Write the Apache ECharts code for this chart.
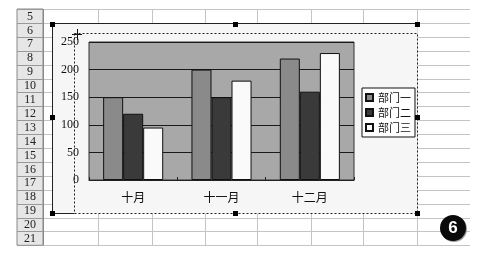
<!DOCTYPE html>
<html>
<head>
<meta charset="utf-8">
<script src="https://cdn.jsdelivr.net/npm/echarts@6/dist/echarts.min.js"></script>
<style>html,body{margin:0;padding:0;background:#fff;}#c{width:478px;height:254px;}</style>
</head>
<body>
<div id="c"></div>
<script>
const categories = ['十月', '十一月', '十二月'];
const seriesNames = ['部门一', '部门二', '部门三'];
const dept1 = [150, 200, 220];
const dept2 = [120, 150, 160];
const dept3 = [95, 180, 230];
const rowLabels = ['5','6','7','8','9','10','11','12','13','14','15','16','17','18','19','20','21'];
const badgeLabel = '6';

const FONT = "'Liberation Serif','Noto Sans CJK SC',serif";
const chart = echarts.init(document.getElementById('c'), null, {renderer: 'canvas'});

// spreadsheet background
const g = [];
const sheetTop = 9, rowH = 13.9, sheetLeft = 17, headerRight = 43, sheetRight = 470;
const sheetBottom = sheetTop + rowH * rowLabels.length;
g.push({type: 'rect', z: -20, shape: {x: 0, y: 0, width: 478, height: 254}, style: {fill: '#ffffff'}});
g.push({type: 'rect', z: -19, shape: {x: sheetLeft, y: sheetTop, width: headerRight - sheetLeft, height: sheetBottom - sheetTop}, style: {fill: '#e6e6e6', stroke: '#888', lineWidth: 1}});
for (let i = 0; i <= rowLabels.length; i++) {
  const y = Math.round(sheetTop + rowH * i) + 0.5;
  g.push({type: 'line', z: -18, shape: {x1: sheetLeft, y1: y, x2: headerRight, y2: y}, style: {stroke: '#999', lineWidth: 1}});
  g.push({type: 'line', z: -18, shape: {x1: headerRight, y1: y, x2: sheetRight, y2: y}, style: {stroke: '#c4c4c4', lineWidth: 1}});
}
rowLabels.forEach(function (lab, i) {
  g.push({type: 'text', z: -17, x: (sheetLeft + headerRight) / 2, y: sheetTop + rowH * i + rowH / 2 + 0.5,
    style: {text: lab, fill: '#222', font: '12px ' + FONT, align: 'center', verticalAlign: 'middle'}});
});
[43, 98, 152, 205, 257, 311, 363, 417].forEach(function (x) {
  g.push({type: 'line', z: -18, shape: {x1: x + 0.5, y1: sheetTop, x2: x + 0.5, y2: sheetBottom}, style: {stroke: x === 43 ? '#888' : '#c4c4c4', lineWidth: 1}});
});
// chart area
g.push({type: 'rect', z: -10, shape: {x: 52.5, y: 23.5, width: 365, height: 190}, style: {fill: '#f6f6f6'}});
g.push({type: 'polyline', z: -9, shape: {points: [[417.5, 23.5], [52.5, 23.5], [52.5, 213.5], [74.5, 213.5]]}, style: {fill: null, stroke: '#222', lineWidth: 1}});
// dashed selection rectangle
g.push({type: 'rect', z: 50, shape: {x: 74.5, y: 33.5, width: 343, height: 180}, style: {fill: null, stroke: '#222', lineWidth: 1, lineDash: [2, 2]}});
// handles
[[52, 24], [235, 24], [417, 24], [52, 117], [417, 117], [52, 213], [235, 213], [417, 213]].forEach(function (p) {
  g.push({type: 'rect', z: 60, shape: {x: p[0] - 2, y: p[1] - 2, width: 5, height: 5}, style: {fill: '#000'}});
});
// cursor
g.push({type: 'line', z: 60, shape: {x1: 72, y1: 34.5, x2: 82, y2: 34.5}, style: {stroke: '#111', lineWidth: 1}});
g.push({type: 'line', z: 60, shape: {x1: 77.5, y1: 29, x2: 77.5, y2: 40}, style: {stroke: '#111', lineWidth: 1}});
// badge
g.push({type: 'circle', z: 60, shape: {cx: 454, cy: 229, r: 13}, style: {fill: '#999'}});
g.push({type: 'circle', z: 61, shape: {cx: 453, cy: 228, r: 13}, style: {fill: '#0a0a0a'}});
g.push({type: 'text', z: 62, x: 453, y: 228.5, style: {text: badgeLabel, fill: '#fff', font: 'bold 17px Arial, "Liberation Sans", sans-serif', align: 'center', verticalAlign: 'middle'}});

const colors = ['#8a8a8a', '#3a3a3a', '#fafafa'];
const values = [dept1, dept2, dept3];

chart.setOption({
  animation: false,
  backgroundColor: 'transparent',
  graphic: {elements: g},
  grid: {left: 89, top: 42, width: 265, height: 138, show: true, backgroundColor: '#a8a8a8', borderColor: '#333', borderWidth: 1, containLabel: false},
  legend: {
    orient: 'vertical', left: 362, top: 88,
    data: seriesNames,
    itemWidth: 7, itemHeight: 7, itemGap: 4,
    padding: [4, 4, 4, 3],
    backgroundColor: '#ffffff', borderColor: '#111', borderWidth: 1,
    textStyle: {fontSize: 11, color: '#111', fontFamily: "'Noto Sans CJK SC', sans-serif"},
    icon: 'rect'
  },
  xAxis: {
    type: 'category', data: categories,
    axisLine: {show: true, lineStyle: {color: '#222'}},
    axisTick: {show: true, inside: true, length: 3, lineStyle: {color: '#222'}},
    axisLabel: {margin: 11, fontSize: 12, color: '#111', fontFamily: "'Noto Sans CJK SC', sans-serif"}
  },
  yAxis: {
    type: 'value', min: 0, max: 250, interval: 50,
    axisLine: {show: false}, axisTick: {show: false},
    axisLabel: {margin: 10, fontSize: 12, color: '#111', fontFamily: FONT},
    splitLine: {show: true, lineStyle: {color: '#1a1a1a', width: 1}}
  },
  series: seriesNames.map(function (name, i) {
    return {
      name: name, type: 'bar', data: values[i],
      barGap: '0%', barCategoryGap: '32%',
      itemStyle: {color: colors[i], borderColor: '#111', borderWidth: 1}
    };
  })
});
</script>
</body>
</html>
